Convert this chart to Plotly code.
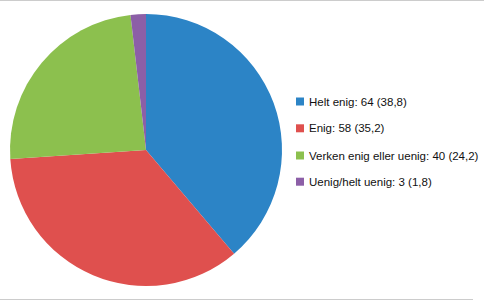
import plotly.graph_objects as go

labels = ["Helt enig", "Enig", "Verken enig eller uenig", "Uenig/helt uenig"]
counts = [64, 58, 40, 3]
percents = ["38,8", "35,2", "24,2", "1,8"]
colors = ["#2c84c6", "#df504e", "#8cc04e", "#8c5fa7"]

W, H = 500, 300

fig = go.Figure()
fig.add_trace(go.Pie(
    labels=labels,
    values=counts,
    sort=False,
    direction="clockwise",
    rotation=0,
    marker=dict(colors=colors, line=dict(width=0)),
    textinfo="none",
    showlegend=False,
    domain=dict(x=[10 / W, 282 / W], y=[14 / H, 286 / H]),
))

# custom legend
row_y = [101.5, 128.3, 155.5, 181.7]
shapes = []
annotations = []
for i, (lab, c, p, col) in enumerate(zip(labels, counts, percents, colors)):
    yc = row_y[i]
    shapes.append(dict(type="rect", xref="paper", yref="paper",
                       x0=296 / W, x1=304 / W,
                       y0=1 - (yc + 4) / H, y1=1 - (yc - 4) / H,
                       fillcolor=col, line=dict(width=0)))
    annotations.append(dict(xref="paper", yref="paper",
                            x=307 / W, y=1 - yc / H,
                            xanchor="left", yanchor="middle",
                            text=f"{lab}: {c} ({p})", showarrow=False,
                            font=dict(family="Liberation Sans, Arial", size=11.5, color="#111111")))

# thin gray frame lines
shapes.append(dict(type="line", xref="paper", yref="paper",
                   x0=0, x1=484 / W, y0=1 - 0.5 / H, y1=1 - 0.5 / H,
                   line=dict(color="#cccccc", width=1)))
shapes.append(dict(type="line", xref="paper", yref="paper",
                   x0=0, x1=473 / W, y0=0.5 / H, y1=0.5 / H,
                   line=dict(color="#cccccc", width=1)))

fig.update_layout(
    width=W, height=H,
    margin=dict(l=0, r=0, t=0, b=0),
    paper_bgcolor="white",
    plot_bgcolor="white",
    shapes=shapes,
    annotations=annotations,
)

fig.write_html("out.html")
